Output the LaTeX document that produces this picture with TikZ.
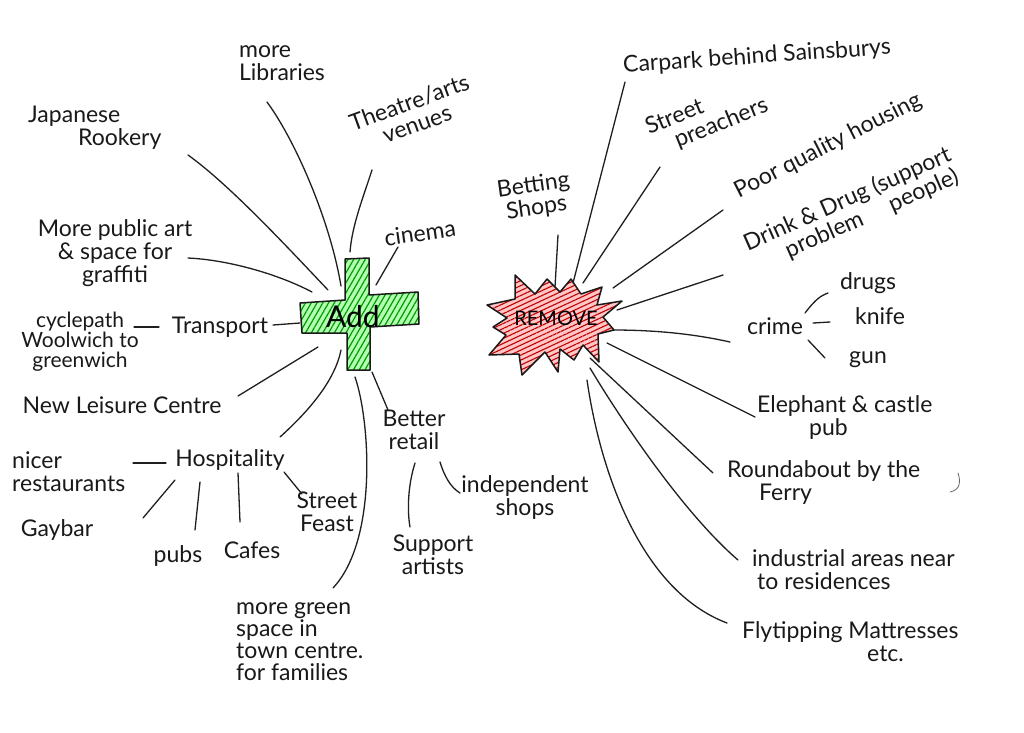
\documentclass[tikz,border=0pt]{standalone}
\usepackage{fontspec}
\setmainfont{Lato}
\usetikzlibrary{patterns.meta}
\begin{document}
\begin{tikzpicture}[x=1pt,y=-1pt,
  txt/.style={font=\fontsize{23}{23}\selectfont, inner sep=0pt, align=center, text=black!90},
  link/.style={draw=black!88, line width=1.3pt, line cap=round},
  hub/.style={line width=1.5pt, line join=round, draw=black!90}
]
\useasboundingbox[fill=white] (0,0) rectangle (1024,732);

% ---------- Add cross ----------
\draw[hub, preaction={fill=green!30!white},
      pattern={Lines[angle=60,distance=5pt,line width=1.2pt]}, pattern color=green!60!black]
  (345,259) -- (369,258) -- (369,295) -- (418,292) -- (419,324) -- (370,327) -- (370,370)
  -- (347,370) -- (347,333) -- (302,333) -- (300,303) -- (345,300) -- cycle;
\node[font=\fontsize{30}{30}\selectfont, inner sep=0pt] (add) at (353,317) {Add};

% ---------- Remove star ----------
\draw[hub, preaction={fill=red!22!white},
      pattern={Lines[angle=25,distance=4.5pt,line width=1.1pt]}, pattern color=red!75!black]
  (487,305) -- (515,299) -- (515,275) -- (535,294) -- (547,279) -- (560,292) -- (571,279)
  -- (581,294) -- (602,287) -- (597,305) -- (622,301) -- (603,317) -- (614,330) -- (598,334)
  -- (599,362) -- (583,345) -- (574,360) -- (560,349) -- (558,372) -- (545,352) -- (522,375)
  -- (519,354) -- (489,355) -- (506,335) -- (493,327) -- (507,318) -- cycle;
\node[font=\fontsize{20}{20}\selectfont, inner sep=0pt] (rem) at (556,318) {REMOVE};

% ---------- Left texts ----------
\node[txt, align=left] (lib) at (282,63) {more\\Libraries};
\node[txt, align=left, anchor=west] (jap) at (28,128) {Japanese\\\hspace*{50pt}Rookery};
\node[txt, rotate=20] (thea) at (413,113) {Theatre/arts\\venues};
\node[txt, rotate=8] (cin) at (420,233) {cinema};
\node[txt] (art) at (115,253) {More public art\\\& space for\\graffiti};
\node[txt, font=\fontsize{21}{20}\selectfont] (cyc) at (80,342) {cyclepath\\Woolwich to\\greenwich};
\node[txt] (trans) at (220,327) {Transport};
\node[txt] (leis) at (122,405) {New Leisure Centre};
\node[txt] (hosp) at (230,460) {Hospitality};
\node[txt, align=left, anchor=west] (nice) at (12,472) {nicer\\restaurants};
\node[txt] (gay) at (57,530) {Gaybar};
\node[txt] (pubs) at (178,556) {pubs};
\node[txt] (cafe) at (252,550) {Cafes};
\node[txt] (feast) at (327,512) {Street\\Feast};
\node[txt] (better) at (414,430) {Better\\retail};
\node[txt] (supp) at (433,555) {Support\\artists};
\node[txt] (indep) at (525,497) {independent\\shops};
\node[txt, align=left, anchor=west, font=\fontsize{23}{22}\selectfont] (green) at (236,642) {more green\\space in\\town centre.\\for families};

% ---------- Right texts ----------
\node[txt, rotate=8] (bet) at (535,197) {Betting\\Shops};
\node[txt, rotate=4] (car) at (757,57) {Carpark behind Sainsburys};
\node[txt, rotate=22, align=left] (preach) at (707,117) {Street\\\hspace*{22pt}preachers};
\node[txt, rotate=27] (poor) at (828,146) {Poor quality housing};
\node[txt, rotate=24, align=left] (drink) at (852,210) {Drink \& Drug (support\\\hspace*{35pt}problem\hspace*{30pt}people)};
\node[txt] (crime) at (775,326) {crime};
\node[txt] (drugs) at (868,283) {drugs};
\node[txt] (knife) at (880,316) {knife};
\node[txt] (gun) at (868,360) {gun};
\node[txt, align=left, anchor=west] (eleph) at (757,417) {Elephant \& castle\\\hspace*{52pt}pub};
\node[txt, align=left, anchor=west] (round) at (727,482) {Roundabout by the\\\hspace*{32pt}Ferry};
\node[txt, align=left, anchor=west] (indus) at (752,570) {industrial areas near\\\hspace*{5pt}to residences};
\node[txt, align=left, anchor=west] (fly) at (742,642) {Flytipping Mattresses\\\hspace*{125pt}etc.};

% ---------- connector end points ----------
\coordinate (libA) at (267,102);   \coordinate (libB) at (341,286);
\coordinate (japA) at (188,155);   \coordinate (japB) at (328,290);
\coordinate (theA) at (372,170);   \coordinate (theB) at (350,252);
\coordinate (cinA) at (398,247);   \coordinate (cinB) at (376,285);
\coordinate (artA) at (188,258);   \coordinate (artB) at (312,292);
\coordinate (traA) at (273,325);   \coordinate (traB) at (300,323);
\coordinate (cycA) at (134,327);   \coordinate (cycB) at (159,327);
\coordinate (leiA) at (238,396);   \coordinate (leiB) at (318,347);
\coordinate (hosA) at (280,437);   \coordinate (hosB) at (341,350);
\coordinate (nicA) at (133,463);   \coordinate (nicB) at (166,463);
\coordinate (gayA) at (143,518);   \coordinate (gayB) at (175,480);
\coordinate (pubA) at (195,530);   \coordinate (pubB) at (200,482);
\coordinate (cafA) at (240,522);   \coordinate (cafB) at (238,473);
\coordinate (feaA) at (284,472);   \coordinate (feaB) at (302,494);
\coordinate (greA) at (355,377);   \coordinate (greB) at (333,588);
\coordinate (betA) at (372,372);   \coordinate (betB) at (388,410);
\coordinate (supA) at (415,463);   \coordinate (supB) at (410,527);
\coordinate (indA) at (440,462);   \coordinate (indB) at (460,493);

\coordinate (bsA) at (558,235);    \coordinate (bsB) at (555,287);
\coordinate (carA) at (625,82);    \coordinate (carB) at (573,283);
\coordinate (prA) at (660,167);    \coordinate (prB) at (583,283);
\coordinate (poA) at (723,210);    \coordinate (poB) at (613,288);
\coordinate (drA) at (723,275);    \coordinate (drB) at (617,310);
\coordinate (crA) at (730,342);    \coordinate (crB) at (613,330);
\coordinate (c1A) at (805,313);    \coordinate (c1B) at (828,293);
\coordinate (c2A) at (813,323);    \coordinate (c2B) at (830,322);
\coordinate (c3A) at (808,340);    \coordinate (c3B) at (825,358);
\coordinate (elA) at (607,343);    \coordinate (elB) at (755,417);
\coordinate (roA) at (590,358);    \coordinate (roB) at (713,473);
\coordinate (inA) at (590,368);    \coordinate (inB) at (738,560);
\coordinate (flA) at (587,380);    \coordinate (flB) at (727,623);

% ---------- connectors ----------
\draw[link] (libA) .. controls (295,140) and (330,220) .. (libB);
\draw[link] (japA) .. controls (230,185) and (290,250) .. (japB);
\draw[link] (theA) .. controls (364,195) and (352,225) .. (theB);
\draw[link] (cinA) -- (cinB);
\draw[link] (artA) .. controls (230,260) and (280,275) .. (artB);
\draw[link] (traA) -- (traB);
\draw[link] (cycA) -- (cycB);
\draw[link] (leiA) -- (leiB);
\draw[link] (hosA) .. controls (310,410) and (335,380) .. (hosB);
\draw[link] (nicA) -- (nicB);
\draw[link] (gayA) -- (gayB);
\draw[link] (pubA) -- (pubB);
\draw[link] (cafA) -- (cafB);
\draw[link] (feaA) -- (feaB);
\draw[link] (greA) .. controls (370,420) and (378,540) .. (greB);
\draw[link] (betA) -- (betB);
\draw[link] (supA) .. controls (408,485) and (407,510) .. (supB);
\draw[link] (indA) .. controls (444,475) and (450,487) .. (indB);

\draw[link] (bsA) -- (bsB);
\draw[link] (carA) -- (carB);
\draw[link] (prA) -- (prB);
\draw[link] (poA) -- (poB);
\draw[link] (drA) -- (drB);
\draw[link] (crA) .. controls (690,333) and (650,330) .. (crB);
\draw[link] (c1A) .. controls (815,300) and (820,296) .. (c1B);
\draw[link] (c2A) -- (c2B);
\draw[link] (c3A) -- (c3B);
\draw[link] (elA) -- (elB);
\draw[link] (roA) -- (roB);
\draw[link] (inA) .. controls (615,410) and (680,510) .. (inB);
\draw[link] (flA) .. controls (600,470) and (640,590) .. (flB);

% stray pen mark
\draw[line width=0.8pt, draw=black!60, line cap=round] (958,473) .. controls (961,482) and (960,490) .. (950,492);
\end{tikzpicture}
\end{document}
